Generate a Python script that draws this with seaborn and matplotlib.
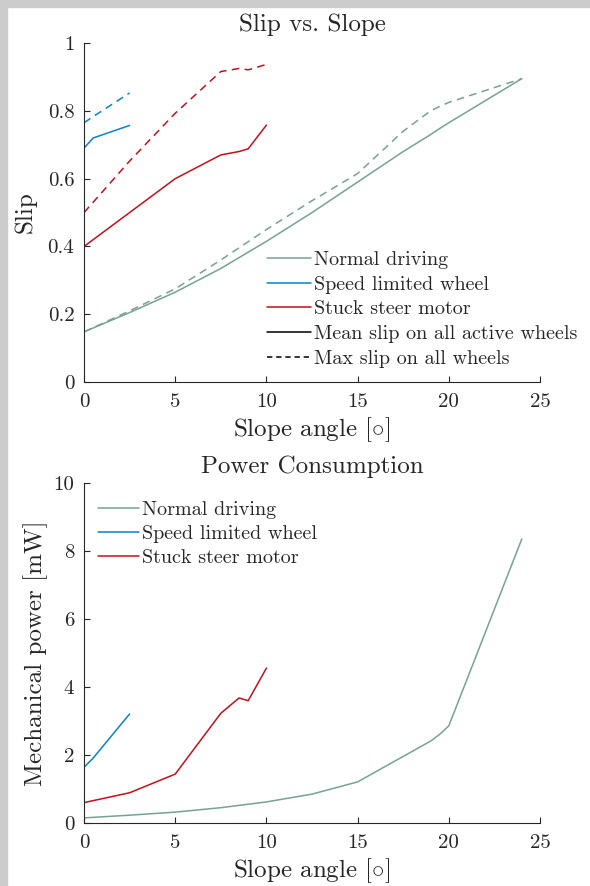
import matplotlib
matplotlib.use("Agg")
import matplotlib.pyplot as plt
from matplotlib.lines import Line2D
from matplotlib.patches import Rectangle
from matplotlib.ticker import FuncFormatter
import seaborn as sns

# Slope angles [deg] for each test case
normal_angle = [0, 2.5, 5, 7.5, 10, 12.5, 15, 17.5, 19, 19.5, 20, 24]
speed_angle = [0, 0.5, 2.5]
steer_angle = [0, 2.5, 5, 7.5, 8.5, 9, 10]

# Mean slip on all active wheels
normal_slip_mean = [0.148, 0.205, 0.265, 0.335, 0.415, 0.50, 0.59, 0.68, 0.73, 0.748, 0.765, 0.895]
speed_slip_mean = [0.69, 0.72, 0.757]
steer_slip_mean = [0.40, 0.50, 0.60, 0.67, 0.68, 0.688, 0.758]

# Max slip on all wheels
normal_slip_max = [0.148, 0.21, 0.275, 0.36, 0.45, 0.535, 0.615, 0.74, 0.80, 0.813, 0.825, 0.895]
speed_slip_max = [0.765, 0.783, 0.853]
steer_slip_max = [0.50, 0.652, 0.793, 0.916, 0.925, 0.921, 0.937]

# Mechanical power [mW]
normal_power = [0.14, 0.22, 0.31, 0.44, 0.61, 0.84, 1.20, 1.95, 2.40, 2.60, 2.85, 8.35]
speed_power = [1.63, 1.90, 3.20]
steer_power = [0.59, 0.88, 1.43, 3.22, 3.67, 3.59, 4.55]

labels = ["Normal driving", "Speed limited wheel", "Stuck steer motor"]
colors = ["#77a293", "#0a83c3", "#c3101a"]

sns.set_style("ticks")
ink = "#262626"
plt.rcParams.update({
    "font.family": ["cmr10"],
    "mathtext.fontset": "cm",
    "axes.formatter.use_mathtext": True,
    "axes.edgecolor": ink,
    "axes.linewidth": 0.8,
    "xtick.color": ink,
    "ytick.color": ink,
    "xtick.direction": "in",
    "ytick.direction": "in",
    "xtick.major.size": 4.5,
    "ytick.major.size": 4.5,
    "xtick.major.width": 0.8,
    "ytick.major.width": 0.8,
    "text.color": ink,
    "axes.labelcolor": ink,
})

fig = plt.figure(figsize=(5.9, 8.86), dpi=100)
fig.patches.append(Rectangle((0, 0), 7 / 590, 1, transform=fig.transFigure,
                             color="#cccccc", zorder=-10))
fig.patches.append(Rectangle((0, 1 - 7 / 886), 1, 7 / 886, transform=fig.transFigure,
                             color="#cccccc", zorder=-10))

ax1 = fig.add_axes([0.1424, 0.5688, 0.7729, 0.3826])
ax2 = fig.add_axes([0.1424, 0.0715, 0.7729, 0.3834])

tick_fs = 15
label_fs = 18
legend_fs = 14.5

fmt = FuncFormatter(lambda v, p: f"{v:g}")

# ---- Slip vs. slope ----
slip_sets = [
    (normal_angle, normal_slip_mean, normal_slip_max),
    (speed_angle, speed_slip_mean, speed_slip_max),
    (steer_angle, steer_slip_mean, steer_slip_max),
]
for (ang, mean_s, max_s), c in zip(slip_sets, colors):
    sns.lineplot(x=ang, y=mean_s, color=c, lw=1.1, ax=ax1, estimator=None, sort=False)
    sns.lineplot(x=ang, y=max_s, color=c, lw=1.1, ls=(0, (5, 3.5)), ax=ax1,
                 estimator=None, sort=False)

ax1.set_xlim(0, 25)
ax1.set_ylim(0, 1)
ax1.set_xticks([0, 5, 10, 15, 20, 25])
ax1.set_yticks([0, 0.2, 0.4, 0.6, 0.8, 1])
ax1.xaxis.set_major_formatter(fmt)
ax1.yaxis.set_major_formatter(fmt)
ax1.set_title("Slip vs. Slope", fontsize=label_fs, pad=9)
ax1.set_xlabel(r"Slope angle [$\circ$]", fontsize=label_fs, labelpad=3)
ax1.set_ylabel("Slip", fontsize=label_fs, labelpad=8)

handles1 = [Line2D([], [], color=c, lw=1.1) for c in colors]
handles1 += [Line2D([], [], color="black", lw=1.1),
             Line2D([], [], color="black", lw=1.1, ls=(0, (3.5, 2.5)))]
labels1 = labels + ["Mean slip on all active wheels", "Max slip on all wheels"]
ax1.legend(handles1, labels1, loc="lower right", bbox_to_anchor=(1.112, 0.0),
           frameon=False, fontsize=legend_fs, handlelength=2.15, handletextpad=0.15,
           labelspacing=0.33, borderaxespad=0.3)

# ---- Power consumption ----
power_sets = [
    (normal_angle, normal_power),
    (speed_angle, speed_power),
    (steer_angle, steer_power),
]
for (ang, pw), c in zip(power_sets, colors):
    sns.lineplot(x=ang, y=pw, color=c, lw=1.1, ax=ax2, estimator=None, sort=False)

ax2.set_xlim(0, 25)
ax2.set_ylim(0, 10)
ax2.set_xticks([0, 5, 10, 15, 20, 25])
ax2.set_yticks([0, 2, 4, 6, 8, 10])
ax2.xaxis.set_major_formatter(fmt)
ax2.yaxis.set_major_formatter(fmt)
ax2.set_title("Power Consumption", fontsize=label_fs, pad=7.5)
ax2.set_xlabel(r"Slope angle [$\circ$]", fontsize=label_fs, labelpad=3)
ax2.set_ylabel("Mechanical power [mW]", fontsize=label_fs, labelpad=4)

handles2 = [Line2D([], [], color=c, lw=1.1) for c in colors]
ax2.legend(handles2, labels, loc="upper left", bbox_to_anchor=(-0.01, 1.0),
           frameon=False, fontsize=legend_fs, handlelength=2.05, handletextpad=0.15,
           labelspacing=0.3, borderaxespad=0.5)

for ax in (ax1, ax2):
    sns.despine(ax=ax)
    ax.tick_params(labelsize=tick_fs, pad=8)
    ax.tick_params(axis="y", pad=7)

fig.savefig("out.png", dpi=100)
